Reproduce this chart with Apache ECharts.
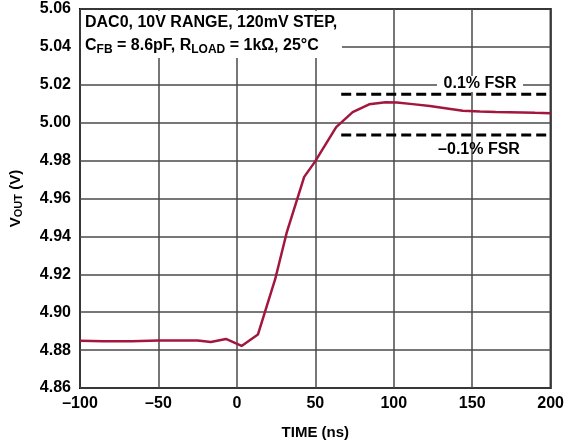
<!DOCTYPE html>
<html>
<head>
<meta charset="utf-8">
<script src="https://cdn.jsdelivr.net/npm/echarts@6/dist/echarts.min.js"></script>
<style>
  html, body { margin: 0; padding: 0; background: #fff; }
  #chart { width: 567px; height: 446px; }
</style>
</head>
<body>
<div id="chart"></div>
<script>
// settling curve
var timeNs = [-100, -85, -67, -50, -25, -16.6, -7, 3, 13.4, 24.4, 31.7, 42.9, 49.6, 63.3, 73.8, 84.3, 94.8, 102, 112, 123, 134, 144, 155, 165, 182, 190, 200];
var vout = [4.8849, 4.8847, 4.8847, 4.8851, 4.8851, 4.8843, 4.8859, 4.8822, 4.8882, 4.9174, 4.9418, 4.9714, 4.9792, 4.9977, 5.0056, 5.0097, 5.0108, 5.0106, 5.0098, 5.0088, 5.0075, 5.0063, 5.0059, 5.0056, 5.0054, 5.0052, 5.0050];
// error band limits
var bandStart = 66.5;
var bandEnd = 200;
var upperLimit = 5.015;
var lowerLimit = 4.9935;
var xTicks = [-100, -50, 0, 50, 100, 150, 200];
var yTicks = [4.86, 4.88, 4.90, 4.92, 4.94, 4.96, 4.98, 5.00, 5.02, 5.04, 5.06];

var font = "'Liberation Sans', Arial, sans-serif";
var curve = [];
for (var i = 0; i < timeNs.length; i++) {
    curve.push([timeNs[i], vout[i]]);
}

var chart = echarts.init(document.getElementById("chart"));
var option = {
    animation: false,
    grid: { left: 79.5, right: 12, top: 9, bottom: 58, show: true, borderColor: "#000", borderWidth: 2, backgroundColor: "transparent" },
    xAxis: {
        type: "value",
        min: xTicks[0],
        max: xTicks[xTicks.length - 1],
        interval: 50,
        axisLine: { show: false },
        axisTick: { show: false },
        axisLabel: {
            color: "#000", fontFamily: font, fontWeight: "bold", fontSize: 16, margin: 8,
            formatter: function (v) { return String(v).replace("-", "\u2013"); }
        },
        splitLine: { lineStyle: { color: "#4a4a4a", width: 1.5 } },
        name: "TIME (ns)",
        nameLocation: "middle",
        nameGap: 37,
        nameTextStyle: { color: "#000", fontFamily: font, fontWeight: "bold", fontSize: 15 }
    },
    yAxis: {
        type: "value",
        min: yTicks[0],
        max: yTicks[yTicks.length - 1],
        interval: 0.02,
        axisLine: { show: false },
        axisTick: { show: false },
        axisLabel: {
            color: "#000", fontFamily: font, fontWeight: "bold", fontSize: 16, margin: 9,
            formatter: function (v) { return v.toFixed(2); }
        },
        splitLine: { lineStyle: { color: "#4a4a4a", width: 1.5 } },
        name: "{b|V}{s|OUT}{b| (V)}",
        nameLocation: "middle",
        nameRotate: 90,
        nameGap: 56,
        nameTextStyle: {
            rich: {
                b: { color: "#000", fontFamily: font, fontWeight: "bold", fontSize: 15 },
                s: { color: "#000", fontFamily: font, fontWeight: "bold", fontSize: 11, padding: [6, 0, 0, 0] }
            }
        }
    },
    graphic: [
        { type: "rect", z: 50, shape: { x: 81, y: 11, width: 261, height: 47 }, style: { fill: "#fff" } },
        {
            type: "text", z: 51, left: 85, top: 11,
            style: {
                text: "{b|DAC0, 10V RANGE, 120mV STEP,}\n{b|C}{s|FB}{b| = 8.6pF, R}{s|LOAD}{b| = 1k\u03a9, 25\u00b0C}",
                lineHeight: 23,
                rich: {
                    b: { fill: "#000", fontFamily: font, fontWeight: "bold", fontSize: 16, lineHeight: 23 },
                    s: { fill: "#000", fontFamily: font, fontWeight: "bold", fontSize: 12, lineHeight: 23, padding: [8, 0, 0, 0] }
                }
            }
        },
        { type: "rect", z: 50, shape: { x: 437, y: 76, width: 86, height: 16 }, style: { fill: "#fff" } },
        { type: "text", z: 51, x: 480, y: 84, style: { text: "0.1% FSR", align: "center", verticalAlign: "middle", fill: "#000", font: "bold 16px " + font } },
        { type: "text", z: 51, x: 479, y: 150, style: { text: "\u20130.1% FSR", align: "center", verticalAlign: "middle", fill: "#000", font: "bold 16px " + font } }
    ],
    series: [
        {
            type: "line", data: curve, symbol: "none", z: 10,
            lineStyle: { color: "#a3173f", width: 2.5 }
        },
        {
            type: "line", data: [[bandStart, upperLimit], [bandEnd, upperLimit]], symbol: "none", z: 9,
            lineStyle: { color: "#000", width: 3, type: [10, 5] }
        },
        {
            type: "line", data: [[bandStart, lowerLimit], [bandEnd, lowerLimit]], symbol: "none", z: 9,
            lineStyle: { color: "#000", width: 3, type: [10, 5] }
        }
    ]
};
chart.setOption(option);
</script>
</body>
</html>
